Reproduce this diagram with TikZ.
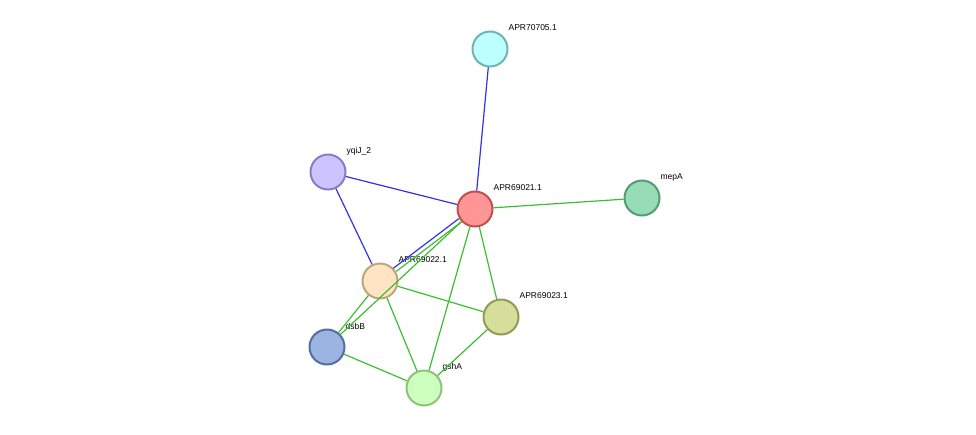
\documentclass[tikz,border=0pt]{standalone}
\usepackage{fontspec}
\setmainfont{Liberation Sans}
\begin{document}
\begin{tikzpicture}[x=1pt, y=-1pt, line width=1.2pt,
  prot/.style={circle, draw, line width=2pt, minimum size=35pt, inner sep=0pt},
  lab/.style={anchor=west, inner sep=0pt, font=\fontsize{8.5}{10}\selectfont},
  blu/.style={draw={rgb,255:red,50;green,50;blue,230}},
  grn/.style={draw={rgb,255:red,60;green,190;blue,50}}]
	\useasboundingbox (0,0) rectangle (976,434);
	\node (n70705) at (490,49) [prot, fill={rgb,255:red,190;green,255;blue,255}, draw={rgb,255:red,110;green,180;blue,180}] {};
	\node (yqiJ) at (328,172) [prot, fill={rgb,255:red,205;green,195;blue,255}, draw={rgb,255:red,140;green,125;blue,195}] {};
	\node (n69021) at (475,209) [prot, fill={rgb,255:red,255;green,150;blue,150}, draw={rgb,255:red,190;green,80;blue,80}] {};
	\node (mepA) at (642,198) [prot, fill={rgb,255:red,150;green,220;blue,180}, draw={rgb,255:red,85;green,155;blue,115}] {};
	\node (n69022) at (380,281) [prot, fill={rgb,255:red,255;green,228;blue,195}, draw={rgb,255:red,190;green,165;blue,125}] {};
	\node (n69023) at (501,317) [prot, fill={rgb,255:red,213;green,222;blue,155}, draw={rgb,255:red,145;green,155;blue,85}] {};
	\node (dsbB) at (327,347) [prot, fill={rgb,255:red,155;green,180;blue,225}, draw={rgb,255:red,85;green,110;blue,160}] {};
	\node (gshA) at (424,388) [prot, fill={rgb,255:red,205;green,255;blue,190}, draw={rgb,255:red,140;green,195;blue,125}] {};

	\node at ([shift={(18,-21)}]n70705.center) [lab] {APR70705.1};
	\node at ([shift={(18,-21)}]yqiJ.center) [lab] {yqiJ\_2};
	\node at ([shift={(18,-21)}]n69021.center) [lab] {APR69021.1};
	\node at ([shift={(18,-21)}]mepA.center) [lab] {mepA};
	\node at ([shift={(18,-21)}]n69022.center) [lab] {APR69022.1};
	\node at ([shift={(18,-21)}]n69023.center) [lab] {APR69023.1};
	\node at ([shift={(18,-21)}]dsbB.center) [lab] {dsbB};
	\node at ([shift={(18,-21)}]gshA.center) [lab] {gshA};

	\begin{scope}[on background layer/.style={}]
	\draw[blu] (n70705) to (n69021);
	\draw[blu] (yqiJ) to (n69021);
	\draw[blu] (yqiJ) to (n69022);
	\draw[grn] (n69021) to (mepA);
	\draw[blu, transform canvas={shift={(-1.5,-1.5)}}] (n69021) to (n69022);
	\draw[grn, transform canvas={shift={(1.5,1.5)}}] (n69021) to (n69022);
	\draw[grn] (n69021) to (n69023);
	\draw[grn] (n69021) to (gshA);
	\draw[grn] (n69021) to (dsbB);
	\draw[grn] (n69022) to (dsbB);
	\draw[grn] (n69022) to (n69023);
	\draw[grn] (n69022) to (gshA);
	\draw[grn] (dsbB) to (gshA);
	\draw[grn] (n69023) to (gshA);
	\end{scope}
\end{tikzpicture}
\end{document}
